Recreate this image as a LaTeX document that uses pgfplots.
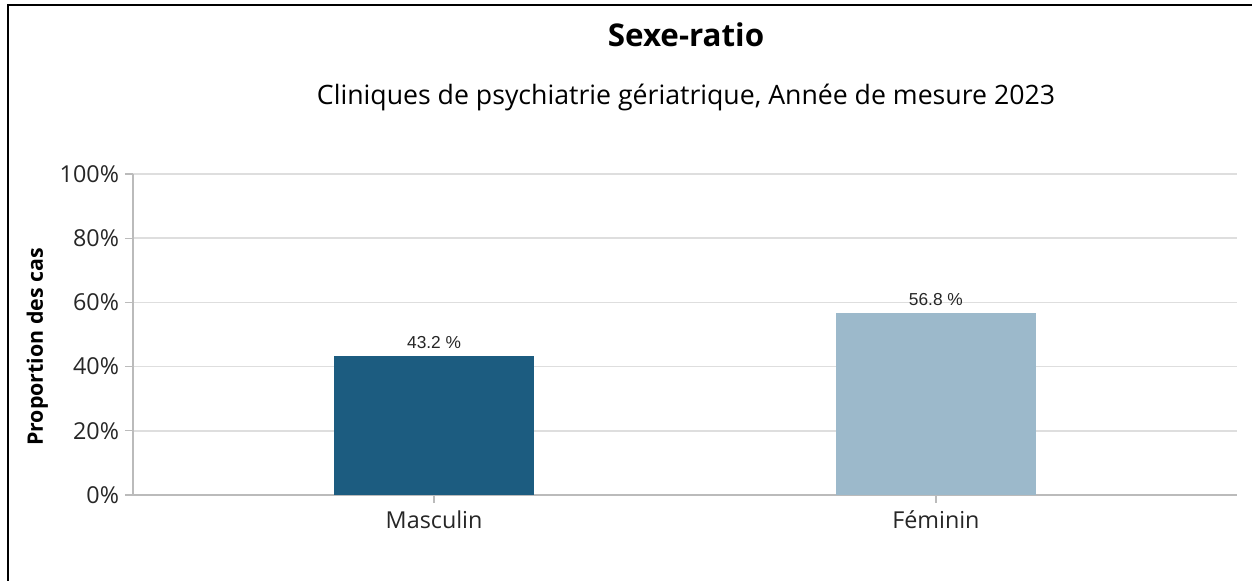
\documentclass[border=0pt]{standalone}
\usepackage{pgfplots}
\pgfplotsset{compat=1.18}
\usepackage{fontspec}
\setmainfont{Open Sans}
\newfontfamily\arialfont{Liberation Sans}
\definecolor{masc}{HTML}{1C5C80}
\definecolor{fem}{HTML}{9CB9CB}
\definecolor{gridc}{HTML}{DEDEDE}
\definecolor{axc}{HTML}{BBBBBB}
\begin{document}
\begin{tikzpicture}[x=1pt,y=1pt]
\path[use as bounding box] (0,0) rectangle (939,435.75);
\draw[line width=1.5pt] (6,0) -- (6,432) -- (939,432);
\node[font=\fontsize{23.5}{28}\selectfont\bfseries] at (514.5,409.5) {Sexe-ratio};
\node[font=\fontsize{20}{24}\selectfont] at (514.5,363) {Cliniques de psychiatrie gériatrique, Année de mesure 2023};
\node[font=\fontsize{16}{19}\selectfont\bfseries, rotate=90] at (28,175.5) {Proportion des cas};
\begin{axis}[
  at={(99.75pt,64.5pt)}, anchor=south west,
  scale only axis, width=828pt, height=240.75pt,
  xmin=-0.6, xmax=1.6, ymin=0, ymax=100,
  axis x line*=bottom, axis y line*=left,
  axis line style={axc, line width=2.2pt},
  every outer x axis line/.append style={-}, every outer y axis line/.append style={-},
  ytick={0,20,40,60,80,100},
  yticklabels={0\%,20\%,40\%,60\%,80\%,100\%},
  xtick={0,1}, xticklabels={Masculin,Féminin},
  ymajorgrids, grid style={gridc, line width=1.1pt},
  tick style={axc, line width=1pt},
  major tick length=6pt, tick align=outside,
  ticklabel style={font=\fontsize{17.5}{21}\selectfont, text=black!85},
  yticklabel style={xshift=-1pt},
  xticklabel style={yshift=-2pt},
  /pgf/number format/assume math mode=true,
  ybar, bar width=150pt,
  nodes near coords={\pgfmathprintnumber[fixed,precision=1]{\pgfplotspointmeta}~\%},
  nodes near coords style={font=\arialfont\fontsize{13}{15}\selectfont, text=black!85, yshift=2pt},
]
\addplot[fill=masc, draw=none, bar shift=0pt] coordinates {(0,43.2)};
\addplot[fill=fem, draw=none, bar shift=0pt] coordinates {(1,56.8)};
\end{axis}
\end{tikzpicture}
\end{document}
